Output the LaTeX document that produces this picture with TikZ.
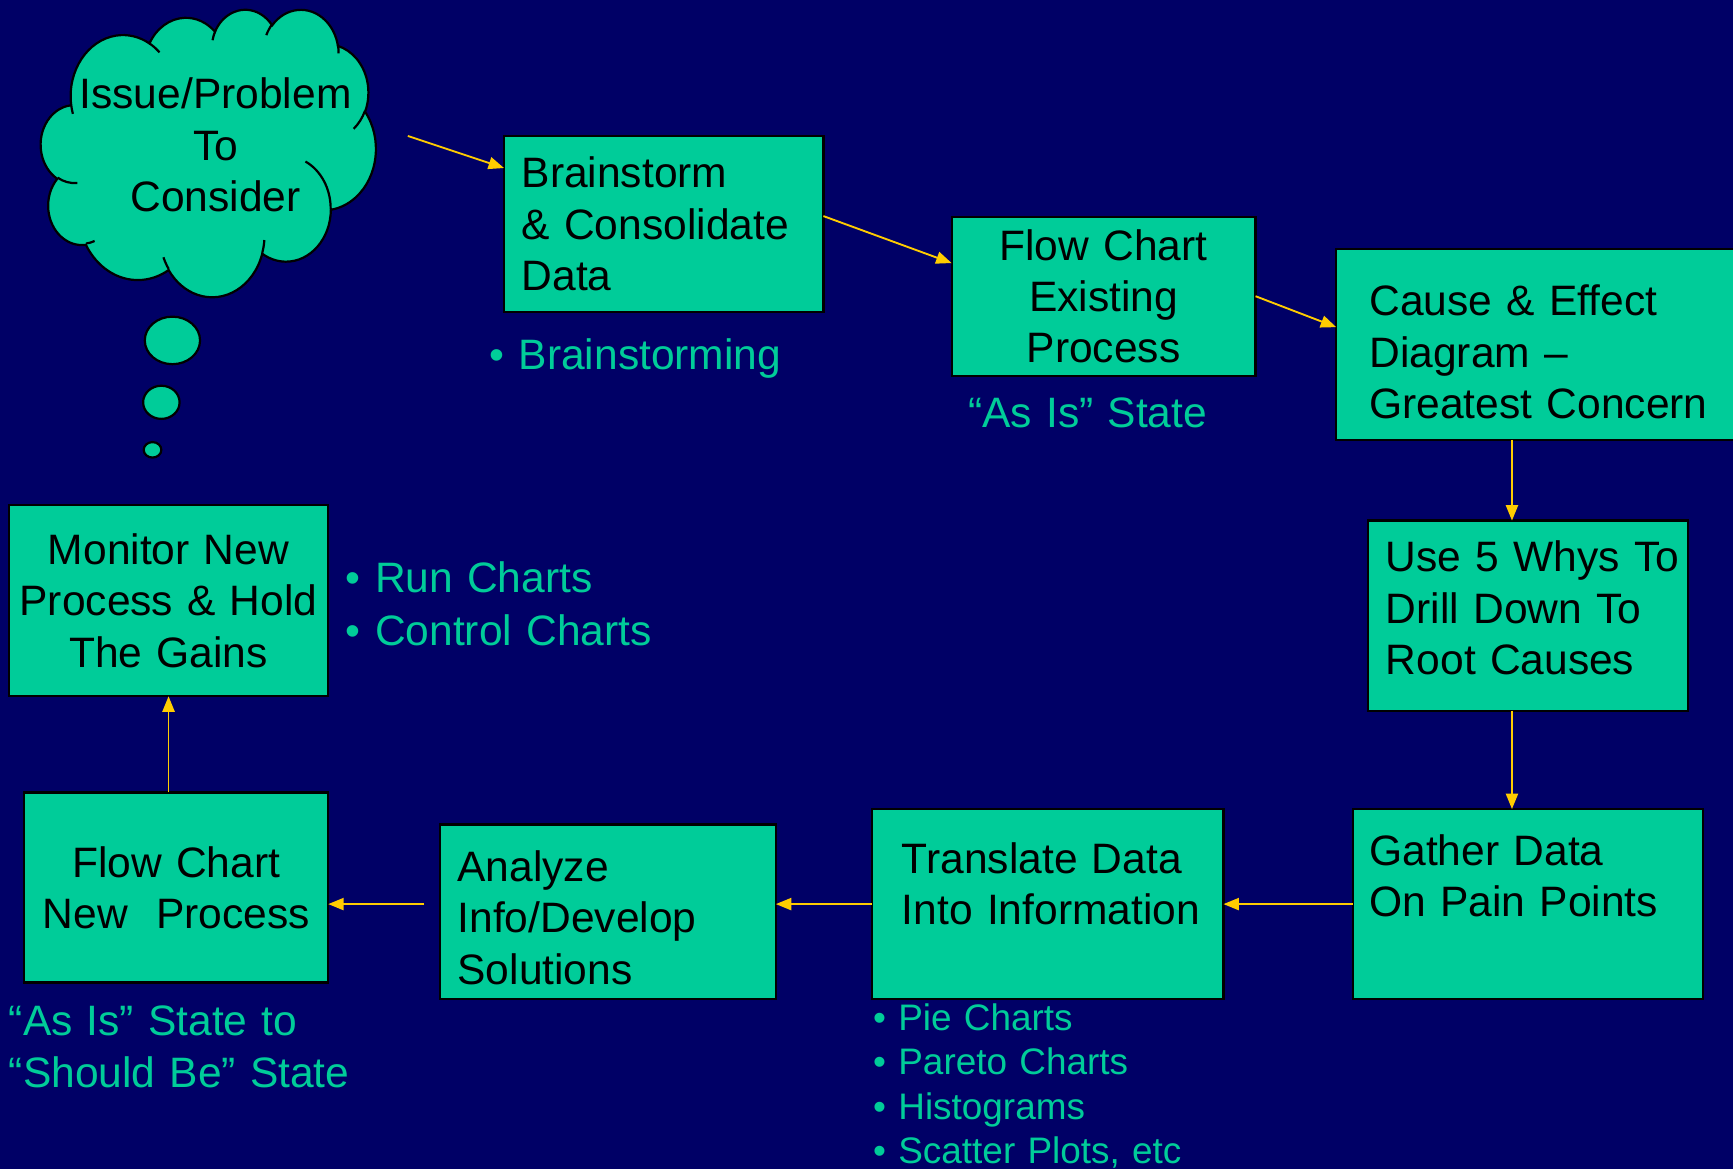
\documentclass[tikz,border=0pt]{standalone}
\usepackage{fontspec}
\setmainfont{Liberation Sans}
\usetikzlibrary{arrows.meta,shapes.geometric}
\definecolor{slide}{HTML}{000066}
\definecolor{sea}{HTML}{00CC99}
\definecolor{gold}{HTML}{FFCC00}
\newcommand\boxfont{\fontsize{38.5}{46.5}\selectfont}
\newcommand\listfont{\fontsize{33.4}{40.3}\selectfont}
\newcommand\pptarc[4]{arc[x radius=#1, y radius=#2,
	start angle={atan2(#1*sin(#3),#2*cos(#3))},
	delta angle={mod(atan2(#1*sin(#3+#4),#2*cos(#3+#4))-atan2(#1*sin(#3),#2*cos(#3))+720,360)}]}
\begin{document}
\begin{tikzpicture}[x=1pt, y=-1pt,
			every node/.style = {font=\boxfont, inner sep=0pt, outer sep=0pt},
			box/.style = {shape=rectangle, draw=black, line width=2pt,
				fill=sea, anchor=north west},
			lpad/.style = {align=left, execute at begin node={\leftskip=#1pt}},
			note/.style = {text=sea, anchor=base west, align=left, text width=420pt},
			link/.style = {draw=gold, line width=1.7pt, -{Triangle[length=14pt,width=11pt]}},
			puff/.style = {shape=ellipse, draw=black, line width=2pt, fill=sea}]
	\path[use as bounding box, fill=slide] (0,0) rectangle (1568,1058);
	\begin{scope}[shift={(37,8)}, x=0.7014pt, y=-0.6019pt, line width=2pt]
		\draw[fill=sea] (39,143.7) \pptarc{67.53}{91.90}{-190.4875}{123.7805}
			\pptarc{53.33}{72.67}{-144.1024}{89.9452}
			\pptarc{43.65}{59.45}{-145.8079}{99.7230}
			\pptarc{48.57}{65.95}{-130.9861}{117.2417}
			\pptarc{53.33}{72.73}{-78.7089}{109.0269}
			\pptarc{67.75}{92.20}{-46.2673}{130.2690}
			\pptarc{57.85}{78.67}{0.6250}{114.0333}
			\pptarc{67.52}{92.15}{22.4516}{115.1726}
			\pptarc{77.20}{105.43}{66.2426}{75.7110}
			\pptarc{43.60}{59.18}{-274.9421}{146.7356}
			\pptarc{43.45}{59.45}{-246.8285}{152.5189} -- cycle;
		\draw (46.93,261.77) \pptarc{43.45}{59.45}{86.742}{26.4295}
			(69.28,348.99) \pptarc{43.60}{59.18}{73.6105}{11.4475}
			(164.78,390.90) \pptarc{67.52}{92.15}{137.6242}{14.0811}
			(288.27,347.51) \pptarc{67.52}{92.15}{6.4533}{15.9984}
			(341.29,229.54) \pptarc{57.85}{78.67}{-70.2924}{70.9174}
			(417.98,153.54) \pptarc{53.33}{72.73}{30.3180}{27.7515}
			(383.24,54.26) \pptarc{48.57}{65.95}{-13.7443}{14.8589}
			(290.78,39.52) \pptarc{48.57}{65.95}{-149.1815}{18.1954}
			(221.41,47.20) \pptarc{43.65}{59.45}{-163.4943}{17.6864}
			(140.00,51.92) \pptarc{67.53}{91.90}{-66.7070}{12.3194}
			(41.27,157.89) \pptarc{67.53}{91.90}{157.6544}{11.8582};
	\end{scope}
	\node[align=center] (issue) at (195,131) {Issue/Problem\\To\\Consider};
	\node[puff, minimum width=50pt, minimum height=43pt] (dot1) at (156,308) {};
	\node[puff, minimum width=33pt, minimum height=30pt] (dot2) at (146,364) {};
	\node[puff, minimum width=16pt, minimum height=14pt] (dot3) at (138,407) {};
	\coordinate (think) at (369,123);
	\node[box, lpad=16, text width=289pt, minimum height=159pt] (brain) at (456,123)
		{Brainstorm\\\& Consolidate\\Data};
	\node[box, align=center, text width=275pt, minimum height=144pt] (flow) at (861,196)
		{Flow Chart\\Existing\\Process};
	\node[box, lpad=30, text width=380pt, minimum height=173pt, text height=42pt] (cause) at (1209,225)
		{Cause \& Effect\\Diagram –\\Greatest Concern};
	\node[box, lpad=16, text width=289pt, minimum height=172pt, text depth=107pt] (whys) at (1238,471)
		{Use 5 Whys To\\Drill Down To\\Root Causes};
	\node[box, lpad=15, text width=317pt, minimum height=172pt, text height=28pt, text depth=98pt] (gather) at (1224,732)
		{Gather Data\\On Pain Points};
	\node[box, lpad=27, text width=318pt, minimum height=172pt, text height=28pt, text depth=84pt] (translate) at (789,732)
		{Translate Data\\Into Information};
	\node[box, lpad=16, text width=304pt, minimum height=158pt, text height=38pt] (analyze) at (398,746)
		{Analyze\\Info/Develop\\Solutions};
	\node[box, align=center, text width=275pt, minimum height=172pt] (newflow) at (22,717)
		{Flow Chart\\New~~Process};
	\node[box, align=center, text width=289pt, minimum height=173pt] (monitor) at (8,457)
		{Monitor New\\Process \& Hold\\The Gains};
	\node[note] (brainnote) at (443,334) {\textbullet\ Brainstorming};
	\node[note] (asis) at (876,387) {“As Is” State};
	\node[note] (chartnote) at (313,536) {\textbullet\ Run Charts\\[1.5pt]\textbullet\ Control Charts};
	\node[note] (shouldbe) at (8,937) {“As Is” State to\\“Should Be” State};
	\node[note, font=\listfont] (toolnote) at (790,932)
		{\textbullet\ Pie Charts\\\textbullet\ Pareto Charts\\\textbullet\ Histograms\\\textbullet\ Scatter Plots, etc};
	\draw[link] (think) -- ([yshift=-29pt]brain.north west);
	\draw[link] ([yshift=7pt]brain.east) -- ([yshift=-42pt]flow.north west);
	\draw[link] (flow.east) -- ([yshift=-71pt]cause.north west);
	\draw[link] ([xshift=-14.5pt]whys.north |- cause.south) -- ([xshift=-14.5pt]whys.north);
	\draw[link] ([xshift=-14.5pt]whys.south) -- ([xshift=-14.5pt]whys.south |- gather.north);
	\draw[link] (gather.west) -- (translate.east);
	\draw[link] (translate.west) -- (translate.west -| analyze.east);
	\draw[link] ([xshift=-14pt]translate.west -| analyze.west) -- (translate.west -| newflow.east);
	\draw[link] (monitor.south |- newflow.north) -- (monitor.south);
\end{tikzpicture}
\end{document}
